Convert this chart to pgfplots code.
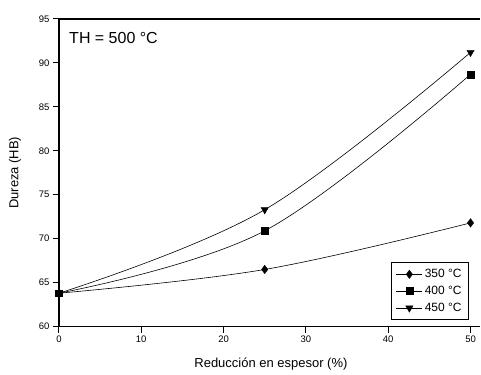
\documentclass[border=0pt]{standalone}
\usepackage{pgfplots}
\pgfplotsset{compat=1.18}
\usepackage{fontspec}
\setmainfont{Liberation Sans}
\begin{document}
\begin{tikzpicture}
\begin{axis}[
  scale only axis,
  width=422pt, height=308pt,
  xmin=0, xmax=51.2, ymin=60, ymax=95,
  axis x line*=bottom, axis y line*=left,
  axis line style={line width=1.2pt},
  tick align=outside,
  major tick length=6pt,
  tick style={line width=1pt, black},
  xtick={0,10,20,30,40,50},
  ytick={60,65,70,75,80,85,90,95},
  /pgf/number format/assume math mode=true,
  ticklabel style={font=\fontsize{9.5}{10}\selectfont},
  xlabel={Reducción en espesor (\%)},
  ylabel={Dureza (HB)},
  every axis x label/.style={at={(axis description cs:0.503,0)}, yshift=-38pt, anchor=center, font=\fontsize{13}{14}\selectfont},
  every axis y label/.style={at={(axis description cs:-0.104,0.5)}, rotate=90, anchor=center, font=\fontsize{13}{14}\selectfont},
  clip=false,
  legend style={at={(0.973,0.02)}, anchor=south east, draw=black, line width=1pt, font=\fontsize{12}{13}\selectfont, row sep=3pt, inner xsep=5pt, inner ysep=5pt},
  legend cell align=left,
  legend image code/.code={\draw[mark repeat=2, mark phase=2, line width=0.8pt] plot coordinates {(0pt,0pt) (13pt,0pt) (26pt,0pt)};},
]
\addplot[black, line width=0.6pt, smooth, tension=0.6, mark=diamond*, mark size=4.2pt, mark options={solid, line width=0.4pt}]
  coordinates {(0,63.8) (25,66.5) (50,71.8)};
\addlegendentry{350 °C}
\addplot[black, line width=0.6pt, smooth, tension=0.6, mark=square*, mark size=3.5pt, mark options={solid, line width=0.4pt}]
  coordinates {(0,63.8) (25,70.9) (50,88.7)};
\addlegendentry{400 °C}
\addplot[black, line width=0.6pt, smooth, tension=0.6, mark=triangle*, mark size=4.2pt, mark options={solid, rotate=180, line width=0.4pt}]
  coordinates {(0,63.8) (25,73.3) (50,91.2)};
\addlegendentry{450 °C}
\draw[line width=1.2pt] (rel axis cs:0,1) -- (rel axis cs:1,1);
\node[anchor=north west, inner sep=0pt, font=\fontsize{16}{18}\selectfont] at (rel axis cs:0.024,0.958) {TH = 500 °C};
\path (rel axis cs:0,0) ++(-59pt,-46pt);
\path (rel axis cs:1,1) ++(0pt,19pt);
\end{axis}
\end{tikzpicture}
\end{document}
